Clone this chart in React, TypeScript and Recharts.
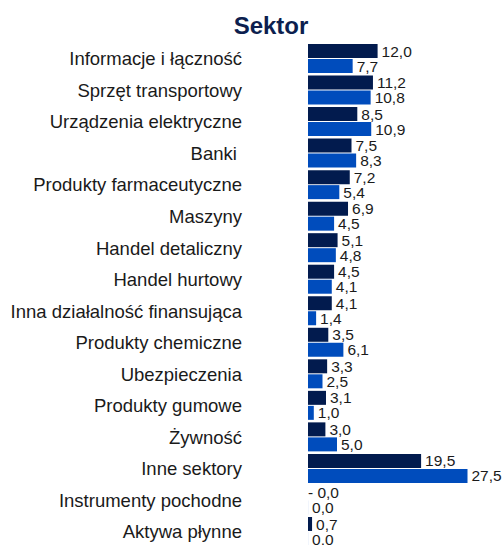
import { BarChart, Bar, XAxis, YAxis, LabelList } from "recharts";

const categories = [
  "Informacje i łączność",
  "Sprzęt transportowy",
  "Urządzenia elektryczne",
  "Banki ",
  "Produkty farmaceutyczne",
  "Maszyny",
  "Handel detaliczny",
  "Handel hurtowy",
  "Inna działalność finansująca",
  "Produkty chemiczne",
  "Ubezpieczenia",
  "Produkty gumowe",
  "Żywność",
  "Inne sektory",
  "Instrumenty pochodne",
  "Aktywa płynne",
];

// dark navy series (first bar in each pair)
const seriesA = [12.0, 11.2, 8.5, 7.5, 7.2, 6.9, 5.1, 4.5, 4.1, 3.5, 3.3, 3.1, 3.0, 19.5, -0.01, 0.7];
// blue series (second bar)
const seriesB = [7.7, 10.8, 10.9, 8.3, 5.4, 4.5, 4.8, 4.1, 1.4, 6.1, 2.5, 1.0, 5.0, 27.5, 0.01, 0.01];

const data = categories.map((name, i) => ({ name, a: seriesA[i], b: seriesB[i] }));

const FONT = "'Liberation Sans', Arial, Helvetica, sans-serif";

const fmt = (v: number) =>
  v < 0 ? "- " + Math.abs(v).toFixed(1).replace(".", ",") : v.toFixed(1).replace(".", ",");

const renderLabel = (props: any) => {
  const x = Number(props.x);
  const y = Number(props.y);
  const w = Number(props.width);
  const h = Number(props.height);
  const v = Number(props.value);
  const tx = v < 0 ? Math.min(x, x + w) : x + w + 4;
  return (
    <text
      x={tx}
      y={y + h / 2}
      dy="0.36em"
      fontSize={15.5}
      fontFamily={FONT}
      fill="#1a1a1a"
      textAnchor="start"
    >
      {fmt(v)}
    </text>
  );
};

export default function App() {
  return (
    <div
      style={{
        position: "fixed",
        left: 0,
        top: 0,
        width: 504,
        height: 545,
        overflow: "hidden",
        background: "#fff",
        fontFamily: FONT,
      }}
    >
      <div
        style={{
          position: "absolute",
          left: 171,
          top: 14,
          width: 200,
          textAlign: "center",
          fontSize: 24,
          lineHeight: "24px",
          fontWeight: "bold",
          color: "#0d1f4f",
        }}
      >
        Sektor
      </div>
      <BarChart
        width={504}
        height={550}
        data={data}
        layout="vertical"
        margin={{ top: 43, right: 22, left: 0, bottom: 2.5 }}
        barSize={14}
        barGap={1}
      >
        <XAxis type="number" domain={[0, 30]} allowDataOverflow hide />
        <YAxis
          type="category"
          dataKey="name"
          width={308}
          axisLine={false}
          tickLine={false}
          tickSize={0}
          tickMargin={66}
          interval={0}
          tick={{ fontSize: 18.5, fill: "#1a1a1a", fontFamily: FONT, style: { whiteSpace: "pre" } }}
        />
        <Bar dataKey="a" fill="#021b4e" isAnimationActive={false}>
          <LabelList dataKey="a" content={renderLabel} />
        </Bar>
        <Bar dataKey="b" fill="#004cbc" isAnimationActive={false}>
          <LabelList dataKey="b" content={renderLabel} />
        </Bar>
      </BarChart>
    </div>
  );
}
